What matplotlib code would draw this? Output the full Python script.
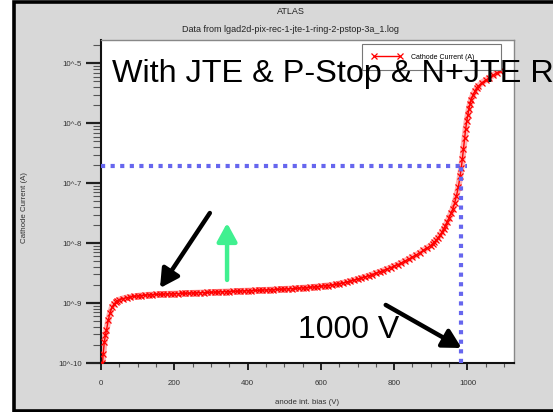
import matplotlib
matplotlib.use("Agg")
import matplotlib.pyplot as plt
from matplotlib.patches import Rectangle
from matplotlib.ticker import FixedLocator, FuncFormatter, LogLocator, MultipleLocator
import numpy as np

plt.rcParams['font.family'] = ['Liberation Sans', 'DejaVu Sans']

# Cathode current vs anode bias (log10 of current in A)
bias_v = [4, 6, 9, 12, 15, 20, 25, 30, 35, 40, 45, 50, 60, 70, 80, 90,
          100, 110, 120, 130, 140, 150, 160, 170, 180, 190,
          200, 210, 220, 230, 240, 250, 260, 270, 280, 290,
          300, 310, 320, 330, 340, 350, 360, 370, 380, 390,
          400, 410, 420, 430, 440, 450, 460, 470, 480, 490,
          500, 510, 520, 530, 540, 550, 560, 570, 580, 590,
          600, 610, 620, 630, 640, 650, 660, 670, 680, 690,
          700, 710, 720, 730, 740, 750, 760, 770, 780, 790,
          800, 810, 820, 830, 840, 850, 860, 870, 880, 890,
          900, 905, 910, 915, 920, 925, 930, 935, 940, 945, 950, 955, 960, 965, 970,
          975, 980, 983, 986, 989, 992, 995, 998, 1001, 1004, 1007, 1010, 1015,
          1020, 1025, 1030, 1040, 1050, 1060, 1070, 1080, 1090]
log_current = [-10.0, -9.85, -9.65, -9.54, -9.45, -9.28, -9.16, -9.07, -9.02, -8.985,
               -8.96, -8.945, -8.925, -8.91, -8.9, -8.89,
               -8.882, -8.874, -8.868, -8.864, -8.86, -8.857, -8.854, -8.851, -8.849, -8.847,
               -8.845, -8.843, -8.84, -8.838, -8.835, -8.833, -8.83, -8.828, -8.825, -8.823,
               -8.82, -8.818, -8.815, -8.813, -8.81, -8.808, -8.805, -8.803, -8.8, -8.798,
               -8.795, -8.793, -8.79, -8.788, -8.785, -8.782, -8.78, -8.776, -8.773, -8.77,
               -8.766, -8.763, -8.76, -8.756, -8.752, -8.748, -8.743, -8.738, -8.733, -8.727,
               -8.72, -8.714, -8.707, -8.699, -8.69, -8.678, -8.665, -8.65, -8.635, -8.618,
               -8.6, -8.583, -8.565, -8.545, -8.525, -8.503, -8.48, -8.458, -8.435, -8.41,
               -8.385, -8.358, -8.33, -8.298, -8.265, -8.233, -8.2, -8.16, -8.12, -8.08,
               -8.04, -8.01, -7.98, -7.945, -7.91, -7.865, -7.82, -7.765, -7.71, -7.645,
               -7.58, -7.505, -7.43, -7.33, -7.21, -7.07, -6.88, -6.75, -6.6, -6.43,
               -6.25, -6.1, -5.97, -5.86, -5.76, -5.68, -5.61, -5.53, -5.47, -5.42,
               -5.38, -5.32, -5.28, -5.24, -5.2, -5.16, -5.12]
current_a = [10 ** v for v in log_current]

# 1000 V guide lines
guide_v = 983
guide_i = 1.9e-7
guide_end_v = 1000

# annotations (data coords)
arrow_left = [(297, 3.18e-8), (161, 1.78e-9)]
arrow_green = [(344, 2.43e-9), (344, 2.17e-8)]
arrow_right = [(777, 9.3e-10), (984, 1.78e-10)]

y_major = [1e-10, 1e-9, 1e-8, 1e-7, 1e-6, 1e-5]
y_labels = ["10^-10", "10^-9", "10^-8", "10^-7", "10^-6", "10^-5"]
x_major = [0, 200, 400, 600, 800, 1000]

W, H = 553, 412
fig = plt.figure(figsize=(W / 100, H / 100), dpi=100, facecolor="white")

# gray panel with black frame (left/top/bottom)
fig.patches.append(Rectangle((14 / W, 1.5 / H), 1.2, 1 - 3.5 / H, transform=fig.transFigure,
                             facecolor="#d8d8d8", edgecolor="black", lw=2.6, zorder=-5))

ax = fig.add_axes([101 / W, 1 - 363 / H, 413 / W, 323 / H])
ax.set_facecolor("white")

ax.plot(bias_v, current_a, color="red", lw=4.5, alpha=0.3, solid_capstyle="round", zorder=2)
ax.plot(bias_v, current_a, color="red", lw=1, marker="x", ms=4, mew=0.9,
        label="Cathode Current (A)", zorder=3)

ax.plot([0, guide_end_v], [guide_i, guide_i], color="#6666ee", lw=3,
        linestyle=(0, (1, 1.3)), zorder=4)
ax.plot([guide_v, guide_v], [1e-10, guide_i], color="#6666ee", lw=3,
        linestyle=(0, (1, 1.3)), zorder=4, clip_on=False)

for (x0, y0), (x1, y1), col in [(arrow_left[0], arrow_left[1], "black"),
                                (arrow_green[0], arrow_green[1], "#40f090"),
                                (arrow_right[0], arrow_right[1], "black")]:
    ax.annotate("", xy=(x1, y1), xytext=(x0, y0),
                arrowprops=dict(arrowstyle="-|>,head_length=0.55,head_width=0.3",
                                color=col, lw=3.2, shrinkA=0, shrinkB=0,
                                mutation_scale=20), zorder=5)

ax.set_yscale("log")
ax.set_xlim(0, 1127)
ax.set_ylim(1e-10, 2.45e-5)

ax.yaxis.set_major_locator(FixedLocator(y_major))
ax.yaxis.set_major_formatter(FuncFormatter(lambda v, p: y_labels[y_major.index(v)]
                                           if v in y_major else ""))
ax.yaxis.set_minor_locator(LogLocator(base=10, subs=np.arange(2, 10)))
ax.yaxis.set_minor_formatter(FuncFormatter(lambda v, p: ""))
ax.xaxis.set_major_locator(FixedLocator(x_major))
ax.xaxis.set_minor_locator(MultipleLocator(50))

ax.tick_params(axis="y", which="major", length=10.8, width=1.6, color="#222222",
               labelsize=5.7, labelcolor="#333333", pad=2.8)
ax.tick_params(axis="y", which="minor", length=5.8, width=0.8, color="#555555")
ax.tick_params(axis="x", which="major", length=5, width=1.4, color="#222222",
               labelsize=5.7, labelcolor="#333333", pad=7.5)
ax.tick_params(axis="x", which="minor", length=2.9, width=0.8, color="#555555")

for s in ["left", "bottom"]:
    ax.spines[s].set_color("#111111")
    ax.spines[s].set_linewidth(1.5)
for s in ["top", "right"]:
    ax.spines[s].set_color("#888888")
    ax.spines[s].set_linewidth(1)

ax.set_ylabel("Cathode Current (A)", fontsize=5.7, color="#333333")
ax.yaxis.set_label_coords(-0.176, 0.48)
ax.set_xlabel("anode int. bias (V)", fontsize=5.7, color="#333333")
ax.xaxis.set_label_coords(0.5, -0.111)

leg = ax.legend(loc="upper left", bbox_to_anchor=(362 / W, 1 - 44 / H, 139 / W, 0),
                bbox_transform=fig.transFigure, mode="expand", fontsize=5,
                frameon=True, fancybox=False, edgecolor="#777777", framealpha=1,
                handlelength=4.3, handletextpad=1.4, borderpad=1.4, numpoints=2,
                borderaxespad=0)
leg.get_frame().set_linewidth(0.8)

fig.text(291 / W, 1 - 11 / H, "ATLAS", ha="center", va="center", fontsize=6.5,
         color="#222222")
fig.text(291 / W, 1 - 29 / H, "Data from lgad2d-pix-rec-1-jte-1-ring-2-pstop-3a_1.log",
         ha="center", va="center", fontsize=6.5, color="#222222")

fig.text(112 / W, 1 - 82 / H, "With JTE & P-Stop & N+JTE R", fontsize=23.3,
         color="black", va="baseline", ha="left")
fig.text(298 / W, 1 - 338 / H, "1000 V", fontsize=23, color="black",
         va="baseline", ha="left", zorder=6)

fig.savefig("out.png", dpi=100, facecolor=fig.get_facecolor())
